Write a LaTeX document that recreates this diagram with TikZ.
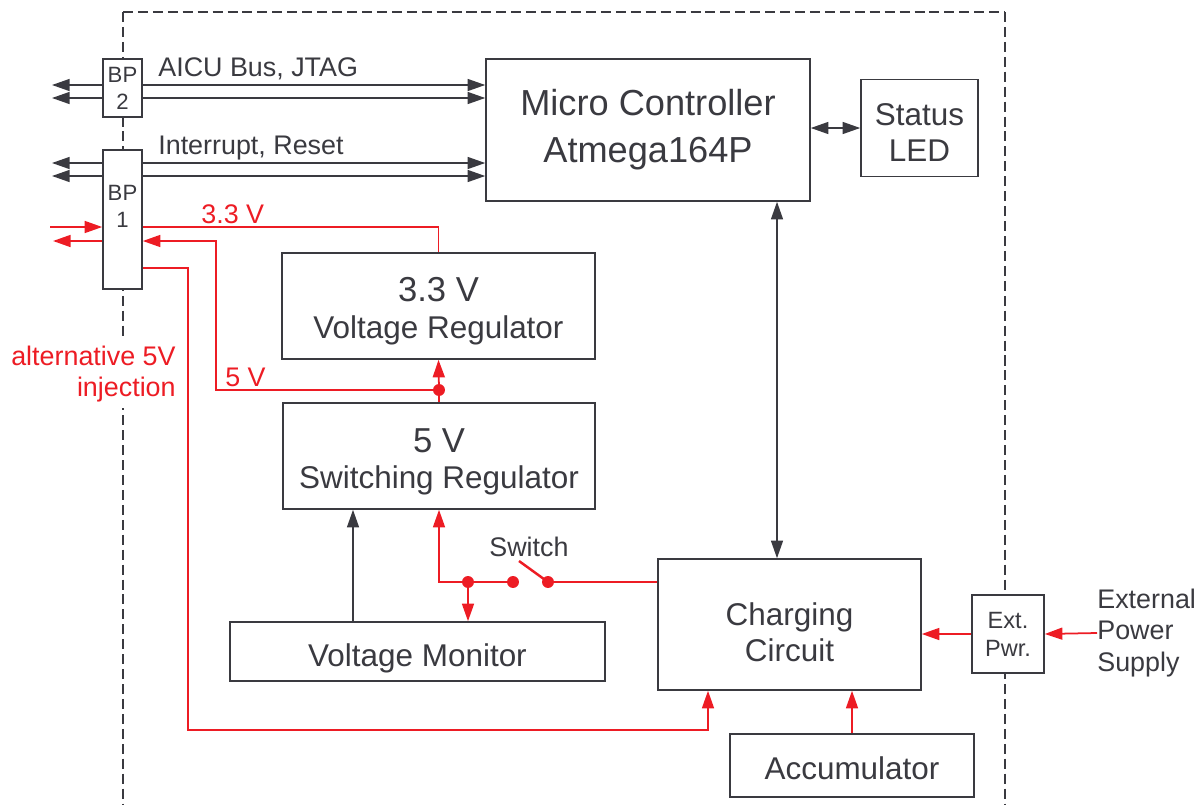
\documentclass[tikz,border=0pt]{standalone}
\usepackage{fontspec}
\setmainfont{Liberation Sans}
\usepackage{tikz}
\usetikzlibrary{arrows.meta, backgrounds}
\definecolor{ink}{HTML}{3A3A40}
\definecolor{wire}{HTML}{ED1C24}
\newcommand{\lift}[1]{\rule{0pt}{#1}}

\begin{document}
\begin{tikzpicture}[x=0.02cm, y=-0.02cm,
  >={Triangle[length=10pt, width=6.8pt]},
  blk/.style={draw=ink, line width=0.9pt, fill=white, text=ink, align=center,
              font=\fontsize{17.9}{20.6}\selectfont, inner sep=0pt},
  port/.style={blk, minimum width=0.78cm, font=\fontsize{12.6}{15.3}\selectfont},
  lbl/.style={text=ink, font=\fontsize{15.3}{17.8}\selectfont, inner sep=0pt},
  bus/.style={draw=ink, line width=0.8pt},
  pwr/.style={draw=wire, line width=1pt},
  frame/.style={draw=ink, line width=1.1pt, dash pattern=on 5.7pt off 2.8pt}
]
  \useasboundingbox (0,0) rectangle (1200,805);

  % blocks
  \node[blk, minimum width=6.48cm, minimum height=2.84cm,
        font=\fontsize{20.6}{26.6}\selectfont] (mc) at (648,130) {Micro Controller\\Atmega164P};
  \node[blk, minimum width=2.34cm, minimum height=1.94cm] (led) at (919.5,128) {\lift{17.6pt}Status\\LED};
  \node[blk, minimum width=6.26cm, minimum height=2.12cm] (reg33) at (438.5,306)
        {{\fontsize{19.7}{21}\selectfont\lift{19.7pt}3.3 V}\\Voltage Regulator};
  \node[blk, minimum width=6.24cm, minimum height=2.12cm] (reg5) at (439,456)
        {{\fontsize{19.7}{21}\selectfont\lift{20.5pt}5 V}\\Switching Regulator};
  \node[blk, minimum width=7.5cm, minimum height=1.18cm] (mon) at (417.5,651.5) {\lift{20.5pt}Voltage Monitor};
  \node[blk, minimum width=5.26cm, minimum height=2.62cm] (chg) at (789.5,624.5) {\lift{21.5pt}Charging\\Circuit};
  \node[blk, minimum width=4.88cm, minimum height=1.26cm] (acc) at (852,765.5) {\lift{15.9pt}Accumulator};

  % connectors through the housing
  \node[port, minimum height=1.16cm] (bp2) at (122.5,88) {BP\\2};
  \node[port, minimum height=2.78cm] (bp1) at (122.5,219.5) {BP\\1\\\phantom{1}};
  \node[port, minimum width=1.44cm, minimum height=1.56cm,
        font=\fontsize{13.4}{16}\selectfont] (ext) at (1008,634) {Ext.\\Pwr.};

  % labels
  \node[lbl, anchor=base west] (busa) at (158,76) {AICU Bus, JTAG};
  \node[lbl, anchor=base west] (busb) at (158,154) {Interrupt, Reset};
  \node[lbl, text=wire, anchor=base west] (v33) at (201,223) {3.3 V};
  \node[lbl, text=wire, anchor=base west] (v5) at (225,386) {5 V};
  \node[lbl, anchor=base west] (swl) at (489,556) {Switch};
  \node[lbl, text=wire, fill=white, align=right, anchor=east, inner ysep=3.4pt]
        (alt5) at (176,374) {alternative 5V\\injection};
  \node[lbl, align=left, anchor=west] (eps) at (1097,633) {External\\Power\\Supply};

  \coordinate (b1) at (52,85);
  \coordinate (b2) at (52,98);
  \coordinate (b3) at (52,163);
  \coordinate (b4) at (52,176);

  \begin{scope}[on background layer]
    \draw[frame] (123,12) -- (123,805);
    \draw[frame, line width=0.8pt] (123,12) -- (1005,12);
    \draw[frame, line width=1.4pt] (1005,12) -- (1005,805);
    \foreach \b in {b1,b2,b3,b4}
      \draw[bus, <->] (\b) -- (mc.west |- \b);
  \end{scope}

  % control lines
  \coordinate (ctl) at (777,0);
  \coordinate (mon0) at (353,0);
  \draw[bus, <->] (mc.east |- led) -- (led.west);
  \draw[bus, <->] (mc.south -| ctl) -- (chg.north -| ctl);
  \draw[bus, ->] (mon.north -| mon0) -- (reg5.south -| mon0);

  % power lines
  \coordinate (vin) at (50,227);
  \coordinate (vout) at (53,241);
  \coordinate (ret) at (216,241);
  \coordinate (alt) at (188,268);
  \coordinate (altlow) at (188,730);
  \coordinate (chgin) at (708,730);
  \coordinate (tap) at (439,390);
  \coordinate (sw0) at (439,582);
  \coordinate (mtap) at (468,582);
  \coordinate (swa) at (513,582);
  \coordinate (swb) at (548,582);
  \coordinate (blade) at (519,561);

  \draw[pwr, ->] (vin) -- (bp1.west |- vin);
  \draw[pwr, ->] (bp1.west |- vout) -- (vout);
  \draw[pwr] (bp1.east |- vin) -| (reg33.north);
  \draw[pwr] (reg5.north) -- (tap);
  \draw[pwr, ->] (tap) -- (reg33.south);
  \draw[pwr, ->] (tap) -| (ret) -- (bp1.east |- ret);
  \draw[pwr, ->] (bp1.east |- alt) -| (altlow) -| (chg.south -| chgin);
  \draw[pwr, ->] (swa) -- (sw0) -- (reg5.south);
  \draw[pwr, ->] (mtap) -- (mon.north -| mtap);
  \draw[pwr, line width=1.4pt] (blade) -- (swb);
  \draw[pwr] (swb) -- (chg.west |- swb);
  \draw[pwr, ->] (acc.north) -- (acc.north |- chg.south);
  \draw[pwr, ->] (ext.west) -- (chg.east |- ext.west);
  \draw[pwr, ->] (eps.west) -- (ext.east);
  \foreach \d in {tap,mtap,swa,swb}
    \fill[wire] (\d) circle[radius=3.4pt];
\end{tikzpicture}
\end{document}
